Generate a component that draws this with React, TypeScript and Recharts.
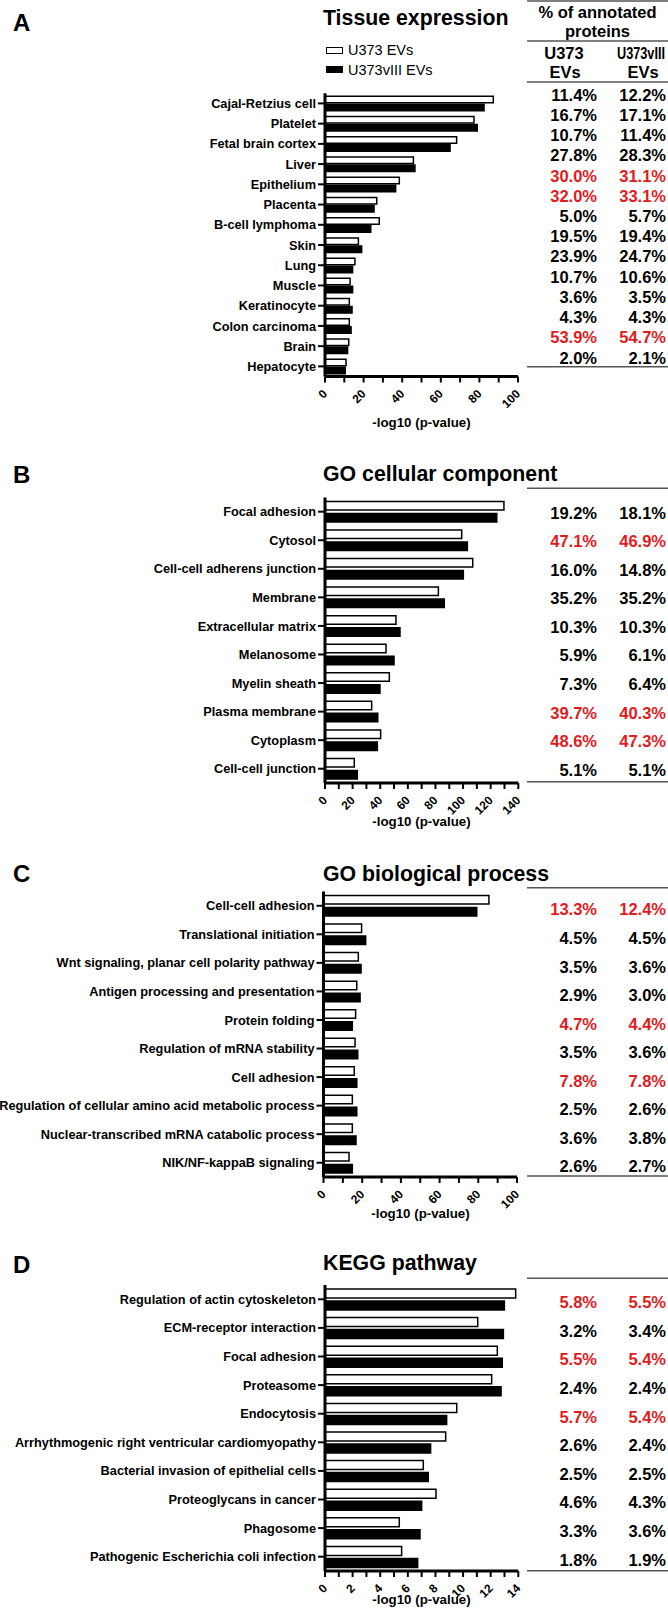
import React from "react";
import { BarChart, Bar, XAxis, YAxis, Legend } from "recharts";

const FONT = '"Liberation Sans", Arial, Helvetica, sans-serif';
const RED = "#e31a1c";

// A - tissue expression
const tissueNames = ["Cajal-Retzius cell", "Platelet", "Fetal brain cortex", "Liver", "Epithelium", "Placenta", "B-cell lymphoma", "Skin", "Lung", "Muscle", "Keratinocyte", "Colon carcinoma", "Brain", "Hepatocyte"];
const tissueU373 = [87.2, 77.2, 68.2, 45.8, 38.5, 26.8, 28.1, 17.3, 15.5, 13.0, 12.6, 12.6, 12.3, 10.9];
const tissueVIII = [82.4, 78.9, 64.8, 46.6, 36.6, 25.4, 23.7, 19.0, 14.3, 14.3, 14.0, 13.5, 11.7, 10.5];
const tissuePctU373 = ["11.4%", "16.7%", "10.7%", "27.8%", "30.0%", "32.0%", "5.0%", "19.5%", "23.9%", "10.7%", "3.6%", "4.3%", "53.9%", "2.0%"];
const tissuePctVIII = ["12.2%", "17.1%", "11.4%", "28.3%", "31.1%", "33.1%", "5.7%", "19.4%", "24.7%", "10.6%", "3.5%", "4.3%", "54.7%", "2.1%"];
const tissueRed = [false, false, false, false, true, true, false, false, false, false, false, false, true, false];
const tissueTicks = [0, 10, 20, 30, 40, 50, 60, 70, 80, 90, 100];

// B - GO cellular component
const ccNames = ["Focal adhesion", "Cytosol", "Cell-cell adherens junction", "Membrane", "Extracellular matrix", "Melanosome", "Myelin sheath", "Plasma membrane", "Cytoplasm", "Cell-cell junction"];
const ccU373 = [129.6, 99.0, 107.0, 82.1, 51.4, 44.2, 46.6, 33.8, 40.3, 21.2];
const ccVIII = [124.4, 103.1, 100.2, 86.4, 54.3, 50.0, 39.8, 38.2, 37.9, 23.4];
const ccPctU373 = ["19.2%", "47.1%", "16.0%", "35.2%", "10.3%", "5.9%", "7.3%", "39.7%", "48.6%", "5.1%"];
const ccPctVIII = ["18.1%", "46.9%", "14.8%", "35.2%", "10.3%", "6.1%", "6.4%", "40.3%", "47.3%", "5.1%"];
const ccRed = [false, true, false, false, false, false, false, true, true, false];
const ccTicks = [0, 10, 20, 30, 40, 50, 60, 70, 80, 90, 100, 110, 120, 130, 140];

// C - GO biological process
const bpNames = ["Cell-cell adhesion", "Translational initiation", "Wnt signaling, planar cell polarity pathway", "Antigen processing and presentation", "Protein folding", "Regulation of mRNA stability", "Cell adhesion", "Regulation of cellular amino acid metabolic process", "Nuclear-transcribed mRNA catabolic process", "NIK/NF-kappaB signaling"];
const bpU373 = [85.5, 19.7, 18.0, 17.2, 16.6, 16.3, 15.9, 14.9, 14.9, 13.2];
const bpVIII = [79.2, 21.8, 19.4, 18.9, 14.9, 17.7, 17.2, 17.2, 16.8, 14.9];
const bpPctU373 = ["13.3%", "4.5%", "3.5%", "2.9%", "4.7%", "3.5%", "7.8%", "2.5%", "3.6%", "2.6%"];
const bpPctVIII = ["12.4%", "4.5%", "3.6%", "3.0%", "4.4%", "3.6%", "7.8%", "2.6%", "3.8%", "2.7%"];
const bpRed = [true, false, false, false, true, false, true, false, false, false];
const bpTicks = [0, 10, 20, 30, 40, 50, 60, 70, 80, 90, 100];

// D - KEGG pathway
const keggNames = ["Regulation of actin cytoskeleton", "ECM-receptor interaction", "Focal adhesion", "Proteasome", "Endocytosis", "Arrhythmogenic right ventricular cardiomyopathy", "Bacterial invasion of epithelial cells", "Proteoglycans in cancer", "Phagosome", "Pathogenic Escherichia coli infection"];
const keggU373 = [13.81, 11.06, 12.48, 12.07, 9.54, 8.74, 7.12, 8.04, 5.38, 5.55];
const keggVIII = [12.99, 12.92, 12.84, 12.75, 8.81, 7.65, 7.48, 7.0, 6.88, 6.71];
const keggPctU373 = ["5.8%", "3.2%", "5.5%", "2.4%", "5.7%", "2.6%", "2.5%", "4.6%", "3.3%", "1.8%"];
const keggPctVIII = ["5.5%", "3.4%", "5.4%", "2.4%", "5.4%", "2.4%", "2.5%", "4.3%", "3.6%", "1.9%"];
const keggRed = [true, false, true, false, true, false, false, false, false, false];
const keggTicks = [0, 1, 2, 3, 4, 5, 6, 7, 8, 9, 10, 11, 12, 13, 14];

const AXIS_H = 50;

type PanelProps = {
  names: string[];
  u373: number[];
  viii: number[];
  pct1: string[];
  pct2: string[];
  red: boolean[];
  ticks: number[];
  labelStep: number;
  chartTop: number;
  plotTop: number;
  plotBottom: number;
  plotLeft: number;
  plotRight: number;
  barSize: number;
  barGap: number;
  rowShift: number;
  legend?: boolean;
};

const LegendBox = ({ payload }: any) => (
  <div style={{ fontFamily: FONT, fontSize: 14.5, color: "#000" }}>
    {(payload || []).map((e: any) => (
      <div key={e.value} style={{ display: "flex", alignItems: "center", height: 19.5 }}>
        <span
          style={{
            display: "inline-block",
            width: 17,
            height: 7,
            boxSizing: "border-box",
            background: e.color,
            border: "1.5px solid #000",
            marginRight: 5,
          }}
        />
        <span>{e.value}</span>
      </div>
    ))}
  </div>
);

function Panel(p: PanelProps) {
  const data = p.names.map((name, i) => ({
    name,
    u373: p.u373[i],
    viii: p.viii[i],
    pct1: p.pct1[i],
    pct2: p.pct2[i],
    red: p.red[i],
  }));
  const max = p.ticks[p.ticks.length - 1];

  const xTick = (props: any) => {
    const { x, y, payload } = props;
    if (Math.round(payload.value) % p.labelStep !== 0) return <g />;
    const ax = x + 3;
    const ay = y + 10;
    return (
      <text x={ax} y={ay} transform={`rotate(-45 ${ax} ${ay})`} textAnchor="end" fontSize={12} fontWeight="bold" fontFamily={FONT} fill="#000">
        {payload.value}
      </text>
    );
  };

  const yTick = (props: any) => {
    const { x, y, payload } = props;
    return (
      <text x={x} y={y} dy="0.36em" textAnchor="end" fontSize={12.75} fontWeight="bold" fontFamily={FONT} fill="#000">
        {payload.value}
      </text>
    );
  };

  const tableTick = (props: any) => {
    const { y, index } = props;
    const row = data[index];
    if (!row) return <g />;
    const fill = row.red ? RED : "#000";
    const ty = y + p.rowShift;
    return (
      <g>
        <text x={597} y={ty} dy="0.36em" textAnchor="end" fontSize={16.5} fontWeight="bold" fontFamily={FONT} fill={fill}>
          {row.pct1}
        </text>
        <text x={666} y={ty} dy="0.36em" textAnchor="end" fontSize={16.5} fontWeight="bold" fontFamily={FONT} fill={fill}>
          {row.pct2}
        </text>
      </g>
    );
  };

  return (
    <div style={{ position: "absolute", left: 0, top: p.chartTop }}>
      <BarChart
        layout="vertical"
        width={668}
        height={p.plotBottom - p.chartTop + AXIS_H}
        data={data}
        margin={{ top: p.plotTop - p.chartTop, right: 0, bottom: 0, left: 0 }}
        barGap={p.barGap}
        barSize={p.barSize}
      >
        <XAxis
          type="number"
          domain={[0, max]}
          ticks={p.ticks}
          interval={0}
          height={AXIS_H}
          tick={xTick}
          tickSize={6}
          tickMargin={2}
          axisLine={{ stroke: "#000", strokeWidth: 3 }}
          tickLine={{ stroke: "#000", strokeWidth: 2 }}
        />
        <YAxis
          yAxisId="cat"
          type="category"
          dataKey="name"
          width={p.plotLeft}
          interval={0}
          tick={yTick}
          tickSize={7}
          tickMargin={2}
          axisLine={{ stroke: "#000", strokeWidth: 3 }}
          tickLine={{ stroke: "#000", strokeWidth: 2 }}
        />
        <YAxis
          yAxisId="table"
          orientation="right"
          type="category"
          dataKey="name"
          width={668 - p.plotRight}
          interval={0}
          tick={tableTick}
          axisLine={false}
          tickLine={false}
        />
        {p.legend && (
          <Legend
            layout="vertical"
            align="center"
            verticalAlign="middle"
            content={LegendBox}
            wrapperStyle={{ position: "absolute", left: 326, top: 40.5, width: 150, height: 40 }}
          />
        )}
        <Bar yAxisId="cat" dataKey="u373" name="U373 EVs" fill="#fff" stroke="#000" strokeWidth={1.5} isAnimationActive={false} />
        <Bar yAxisId="cat" dataKey="viii" name="U373vIII EVs" fill="#000" stroke="#000" strokeWidth={1.5} isAnimationActive={false} />
      </BarChart>
    </div>
  );
}

const textStyle = { fontFamily: FONT, fontWeight: "bold" as const, fill: "#000" };
const lineStyle = { stroke: "#555", strokeWidth: 1.5 };

export default function App() {
  return (
    <div style={{ position: "relative", width: 668, height: 1617, background: "#fff", overflow: "hidden" }}>
      <style>{"body{margin:0}"}</style>
      <Panel
        names={tissueNames} u373={tissueU373} viii={tissueVIII} pct1={tissuePctU373} pct2={tissuePctVIII} red={tissueRed}
        ticks={tissueTicks} labelStep={20}
        chartTop={0} plotTop={93.3} plotBottom={376.5} plotLeft={325} plotRight={518}
        barSize={6.5} barGap={1.5} rowShift={-8.7} legend
      />
      <Panel
        names={ccNames} u373={ccU373} viii={ccVIII} pct1={ccPctU373} pct2={ccPctVIII} red={ccRed}
        ticks={ccTicks} labelStep={20}
        chartTop={440} plotTop={497.4} plotBottom={783} plotLeft={325} plotRight={518.3}
        barSize={8.5} barGap={3.5} rowShift={1}
      />
      <Panel
        names={bpNames} u373={bpU373} viii={bpVIII} pct1={bpPctU373} pct2={bpPctVIII} red={bpRed}
        ticks={bpTicks} labelStep={20}
        chartTop={840} plotTop={891.5} plotBottom={1177} plotLeft={323.5} plotRight={517}
        barSize={8.5} barGap={3.5} rowShift={3.7}
      />
      <Panel
        names={keggNames} u373={keggU373} viii={keggVIII} pct1={keggPctU373} pct2={keggPctVIII} red={keggRed}
        ticks={keggTicks} labelStep={2}
        chartTop={1230} plotTop={1285} plotBottom={1571} plotLeft={325} plotRight={518.3}
        barSize={9} barGap={3} rowShift={3}
      />
      <svg width={668} height={1617} style={{ position: "absolute", left: 0, top: 0, pointerEvents: "none" }}>
        {/* panel letters */}
        <text x={13} y={31} fontSize={24} {...textStyle}>A</text>
        <text x={13} y={483} fontSize={24} {...textStyle}>B</text>
        <text x={13} y={882} fontSize={24} {...textStyle}>C</text>
        <text x={13} y={1273} fontSize={24} {...textStyle}>D</text>
        {/* titles */}
        <text x={323} y={25.3} fontSize={21.3} {...textStyle}>Tissue expression</text>
        <text x={323} y={480.5} fontSize={21.3} {...textStyle}>GO cellular component</text>
        <text x={323} y={880.5} fontSize={21.3} {...textStyle}>GO biological process</text>
        <text x={323} y={1270.3} fontSize={21.3} {...textStyle}>KEGG pathway</text>
        {/* table header */}
        <text x={597.5} y={18} fontSize={16.5} textAnchor="middle" {...textStyle}>% of annotated</text>
        <text x={597.5} y={36.5} fontSize={16.5} textAnchor="middle" {...textStyle}>proteins</text>
        <text x={564} y={59} fontSize={16.5} textAnchor="middle" {...textStyle}>U373</text>
        <g transform="translate(617 59) scale(0.77 1)">
          <text x={0} y={0} fontSize={16.5} {...textStyle}>U373vIII</text>
        </g>
        <text x={565} y={78} fontSize={16.5} textAnchor="middle" {...textStyle}>EVs</text>
        <text x={643} y={78} fontSize={16.5} textAnchor="middle" {...textStyle}>EVs</text>
        {/* table rules */}
        <line x1={527} x2={668} y1={1} y2={1} {...lineStyle} />
        <line x1={527} x2={668} y1={41} y2={41} {...lineStyle} />
        <line x1={527} x2={668} y1={82} y2={82} {...lineStyle} />
        <line x1={527} x2={668} y1={366.7} y2={366.7} {...lineStyle} />
        <line x1={527} x2={668} y1={488.3} y2={488.3} {...lineStyle} />
        <line x1={527} x2={668} y1={781.7} y2={781.7} {...lineStyle} />
        <line x1={527} x2={668} y1={887.7} y2={887.7} {...lineStyle} />
        <line x1={527} x2={668} y1={1176} y2={1176} {...lineStyle} />
        <line x1={527} x2={668} y1={1278.3} y2={1278.3} {...lineStyle} />
        <line x1={527} x2={668} y1={1570.7} y2={1570.7} {...lineStyle} />
        {/* x axis titles */}
        <text x={421.5} y={427} fontSize={13.3} textAnchor="middle" {...textStyle}>-log10 (p-value)</text>
        <text x={421.5} y={826.4} fontSize={13.3} textAnchor="middle" {...textStyle}>-log10 (p-value)</text>
        <text x={420.5} y={1218} fontSize={13.3} textAnchor="middle" {...textStyle}>-log10 (p-value)</text>
        <text x={421.5} y={1603.5} fontSize={13.3} textAnchor="middle" {...textStyle}>-log10 (p-value)</text>
      </svg>
    </div>
  );
}
